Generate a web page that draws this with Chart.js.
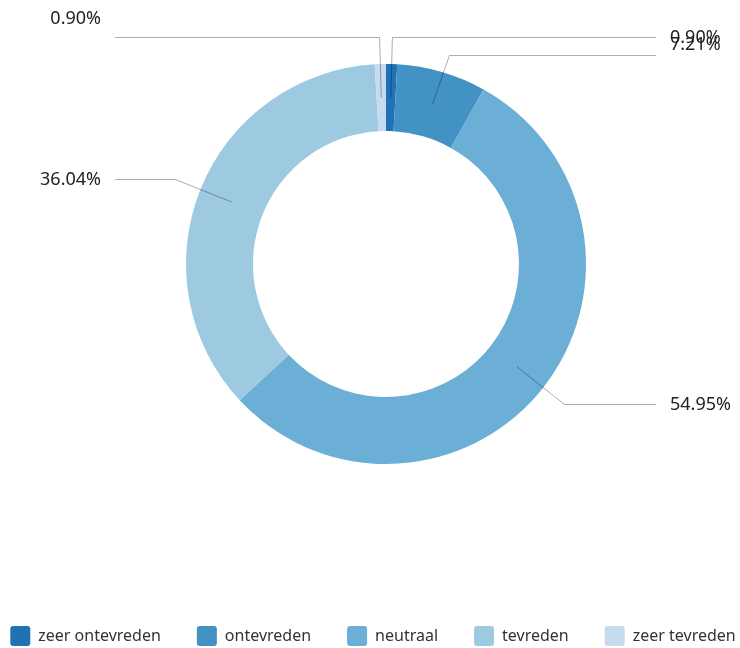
<!DOCTYPE html>
<html><head><meta charset="utf-8">
<script src="https://cdn.jsdelivr.net/npm/chart.js@4"></script>
<style>html,body{margin:0;padding:0;background:#fff}#wrap{width:740px;height:648px;position:relative}</style>
</head><body><div id="wrap"><canvas id="c"></canvas></div>
<script>
const categories = ['zeer ontevreden', 'ontevreden', 'neutraal', 'tevreden', 'zeer tevreden'];
const values = [0.90, 7.21, 54.95, 36.04, 0.90];
const sliceColors = ['#2171b5', '#4292c6', '#6baed6', '#9ecae1', '#c6dbef'];
const valueLabels = values.map(v => v.toFixed(2) + '%');

const placeDonut = {
  id: 'placeDonut',
  afterLayout(chart, args, o) {
    const a = chart.chartArea;
    a.left = o.cx - o.r; a.right = o.cx + o.r;
    a.top = o.cy - o.r; a.bottom = o.cy + o.r;
    a.width = 2 * o.r; a.height = 2 * o.r;
  }
};

const leaderLabels = {
  id: 'leaderLabels',
  afterDatasetsDraw(chart, args, o) {
    const meta = chart.getDatasetMeta(0);
    const ctx = chart.ctx;
    const items = meta.data.map((arc, i) => {
      const p = arc.getProps(['x', 'y', 'startAngle', 'endAngle', 'innerRadius', 'outerRadius'], true);
      const mid = (p.startAngle + p.endAngle) / 2;
      const rm = (p.innerRadius + p.outerRadius) / 2;
      const re = p.outerRadius + o.elbow;
      const c = Math.cos(mid), s = Math.sin(mid);
      return { i, cx: p.x, sx: p.x + c * rm, sy: p.y + s * rm, ex: p.x + c * re, ey: p.y + s * re, right: c >= 0 };
    });
    [true, false].forEach(side => {
      const list = items.filter(it => it.right === side).sort((a, b) => a.ey - b.ey);
      for (let k = 1; k < list.length; k++) {
        if (list[k].ey - list[k - 1].ey < o.minGap) list[k].ey = list[k - 1].ey + o.minGap;
      }
    });
    ctx.save();
    ctx.lineWidth = 1;
    ctx.strokeStyle = o.lineColor;
    ctx.font = o.font;
    ctx.fillStyle = o.color;
    ctx.textBaseline = 'middle';
    items.forEach(it => {
      const endX = it.right ? it.cx + o.reachRight : it.cx - o.reachLeft;
      const ly = Math.round(it.ey) + 0.5;
      ctx.beginPath();
      ctx.moveTo(it.sx, it.sy);
      ctx.lineTo(it.ex, ly);
      ctx.lineTo(endX, ly);
      ctx.stroke();
      ctx.textAlign = it.right ? 'left' : 'right';
      const tx = it.right ? endX + o.textGap : endX - o.textGap;
      ctx.fillText(valueLabels[it.i], tx, ly + (o.textShift[it.i] || 0));
    });
    ctx.restore();
  }
};

new Chart(document.getElementById('c'), {
  type: 'doughnut',
  data: {
    labels: categories,
    datasets: [{
      data: values,
      backgroundColor: sliceColors,
      borderWidth: 0,
      hoverOffset: 0,
      spacing: 0,
      clip: false
    }]
  },
  options: {
    responsive: true,
    maintainAspectRatio: false,
    animation: false,
    devicePixelRatio: 1,
    cutout: '66.5%',
    layout: { padding: { top: 0, left: -57, right: -63, bottom: -8 } },
    plugins: {
      tooltip: { enabled: false },
      legend: {
        position: 'bottom',
        labels: {
          boxWidth: 20,
          boxHeight: 20,
          useBorderRadius: true,
          borderRadius: 3,
          padding: 36,
          color: '#333',
          font: { family: '"Noto Sans", sans-serif', size: 16 }
        }
      },
      placeDonut: { cx: 386, cy: 264, r: 200 },
      leaderLabels: {
        elbow: 27,
        minGap: 18,
        reachRight: 270,
        reachLeft: 271,
        textGap: 14,
        textShift: [0, -11, 0, 0, -19],
        lineColor: 'rgba(0,0,0,0.32)',
        font: '18px "Noto Sans", sans-serif',
        color: '#222'
      }
    }
  },
  plugins: [placeDonut, leaderLabels]
});
</script>
</body></html>
